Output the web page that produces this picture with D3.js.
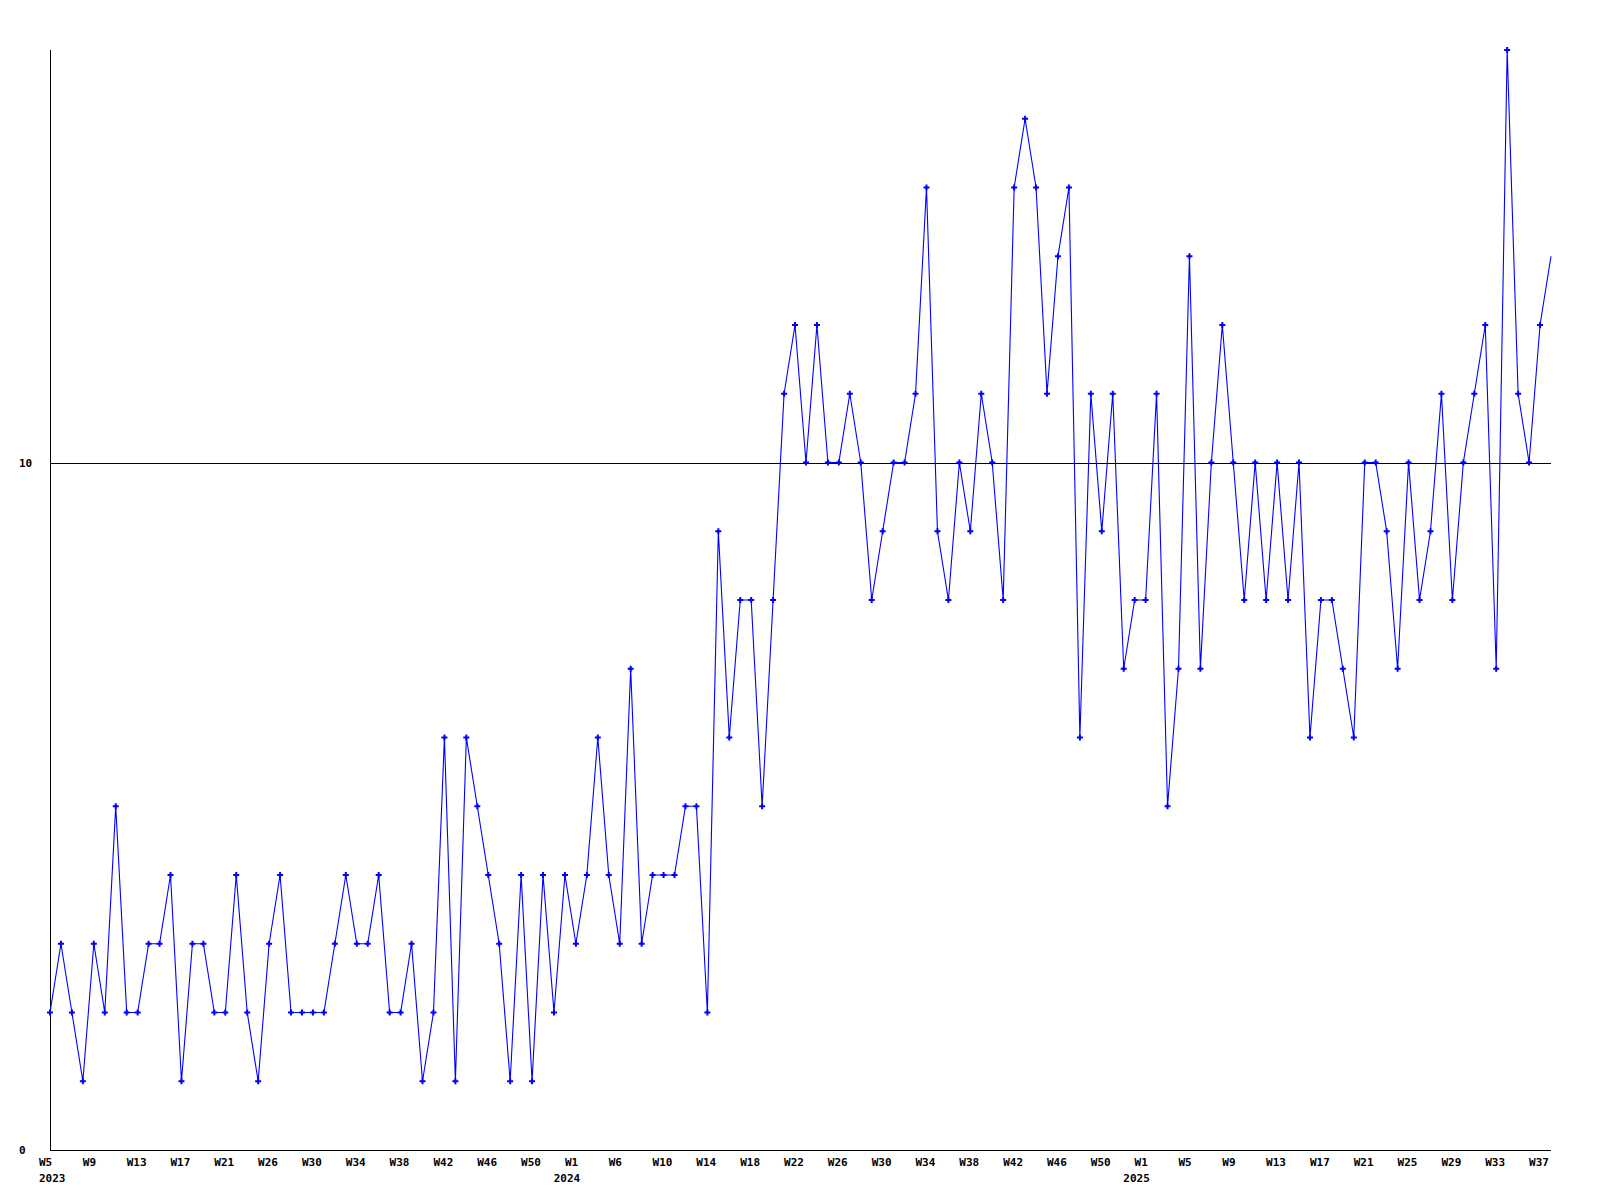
<!DOCTYPE html>
<html>
<head>
<meta charset="utf-8">
<script src="https://cdn.jsdelivr.net/npm/d3@7"></script>
<style>
  html, body { margin: 0; padding: 0; background: #fff; }
  svg { display: block; }
  text { font-family: "DejaVu Sans Mono", "Liberation Mono", monospace; font-weight: bold; font-size: 11px; fill: #000; }
</style>
</head>
<body>
<svg id="chart" width="1600" height="1200"></svg>
<script>
// Weekly values, 2023 W5 .. 2025 W38
const values = [
  2,3,2,1,3,2,5,2,2,3,3,4,1,3,3,2,2,4,2,1,3,4,2,2,2,2,
  3,4,3,3,4,2,2,3,1,2,6,1,6,5,4,3,1,4,1,4,2,4,3,4,6,
  4,3,7,3,4,4,4,5,5,2,9,6,8,8,5,8,11,12,10,12,10,10,11,10,8,
  9,10,10,11,14,9,8,10,9,11,10,8,14,15,14,11,13,14,6,11,9,11,7,8,8,
  11,5,7,13,7,10,12,10,8,10,8,10,8,10,6,8,8,7,6,10,10,9,7,10,8,9,11,8,10,11,12,7,16,11,10,12,13
];
// tick labels, one every 4 weeks starting at index 0
const weekLabels = ["W5","W9","W13","W17","W21","W26","W30","W34","W38","W42","W46","W50",
  "W1","W6","W10","W14","W18","W22","W26","W30","W34","W38","W42","W46","W50",
  "W1","W5","W9","W13","W17","W21","W25","W29","W33","W37"];
const yearLabels = ["2023","2024","2025"];
const yearIndex = [0, 48, 100];
const yTicks = [0, 10];

const svg = d3.select("#chart");
const mLeft = 50, mRight = 1551, mTop = 50, mBottom = 1150;

const x = d3.scaleLinear().domain([0, values.length - 1]).range([mLeft, mRight]);
const y = d3.scaleLinear().domain([0, 16]).range([mBottom, mTop]);

// reference line at 10
svg.selectAll("line.ref").data(yTicks.filter(d => d > 0)).join("line")
  .attr("class", "ref")
  .attr("x1", mLeft).attr("x2", mRight)
  .attr("y1", d => Math.round(y(d)) + 0.5).attr("y2", d => Math.round(y(d)) + 0.5)
  .attr("stroke", "#000").attr("stroke-width", 1).attr("shape-rendering", "crispEdges");

// axes
svg.append("line").attr("x1", mLeft + 0.5).attr("x2", mLeft + 0.5).attr("y1", mTop).attr("y2", mBottom + 1)
  .attr("stroke", "#000").attr("shape-rendering", "crispEdges");
svg.append("line").attr("x1", mLeft).attr("x2", mRight).attr("y1", mBottom + 0.5).attr("y2", mBottom + 0.5)
  .attr("stroke", "#000").attr("shape-rendering", "crispEdges");

// y labels
svg.selectAll("text.ylab").data(yTicks).join("text")
  .attr("class", "ylab")
  .attr("x", 19)
  .attr("y", d => y(d) + 4)
  .text(d => d);

// x labels
svg.selectAll("text.wlab").data(weekLabels).join("text")
  .attr("class", "wlab")
  .attr("x", (d, i) => x(i * 4) - 11)
  .attr("y", 1166)
  .text(d => d);

svg.selectAll("text.yrlab").data(yearLabels).join("text")
  .attr("class", "yrlab")
  .attr("text-anchor", (d, i) => i === 0 ? "start" : "middle")
  .attr("x", (d, i) => i === 0 ? x(yearIndex[i]) - 11 : x(yearIndex[i]) - 9)
  .attr("y", 1182)
  .text(d => d);

// line
const line = d3.line().x((d, i) => x(i)).y(d => y(d));
svg.append("path").datum(values)
  .attr("d", line)
  .attr("fill", "none").attr("stroke", "#0000ff").attr("stroke-width", 1.1);

// markers (all but last)
const cross = d3.symbol().type(d3.symbolCross).size(20);
svg.selectAll("path.mk").data(values.slice(0, values.length - 1)).join("path")
  .attr("class", "mk")
  .attr("transform", (d, i) => `translate(${x(i)},${y(d)})`)
  .attr("d", cross)
  .attr("fill", "#0000ff");
</script>
</body>
</html>
